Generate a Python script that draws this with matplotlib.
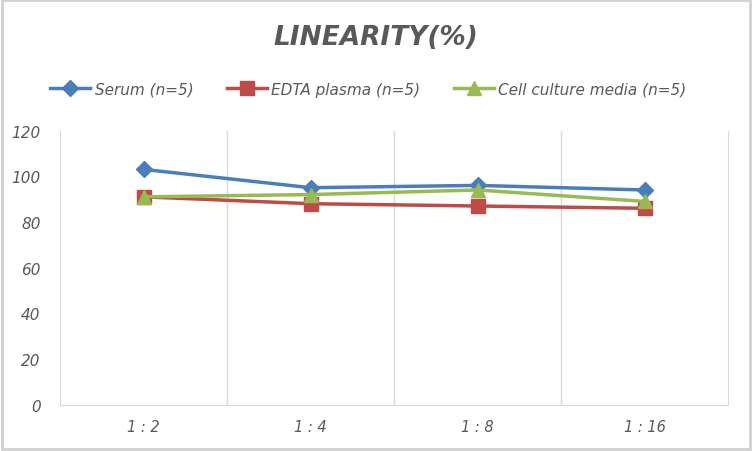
import matplotlib
matplotlib.use("Agg")
import matplotlib.pyplot as plt
from matplotlib.patches import Rectangle

categories = ["1:2", "1:4", "1:8", "1:16"]
serum = [103, 95, 96, 94]
edta = [91, 88, 87, 86]
cell = [91, 92, 94, 89]
series_names = ["Serum (n=5)", "EDTA plasma (n=5)", "Cell culture media (n=5)"]
yticks = [0, 20, 40, 60, 80, 100, 120]

plt.rcParams['font.family'] = ['DejaVu Sans']
txt = '#595959'
grid = '#d9d9d9'

fig = plt.figure(figsize=(7.52, 4.52), dpi=100)
ax = fig.add_axes([60/752, 1-406/452, (728-60)/752, (406-131.5)/452])

x = list(range(len(categories)))
ax.plot(x, serum, color='#4a7ebb', lw=2.5, marker='D', ms=8, label=series_names[0], zorder=3)
ax.plot(x, edta, color='#be4b48', lw=2.5, marker='s', ms=10, label=series_names[1], zorder=3)
ax.plot(x, cell, color='#98b954', lw=2.5, marker='^', ms=10, label=series_names[2], zorder=4)

ax.set_xlim(-0.5, len(categories) - 0.5)
ax.set_ylim(0, 120)
ax.set_yticks(yticks)
ax.set_yticklabels([str(v) for v in yticks], fontsize=11, style='italic', color=txt)
ax.set_xticks(x)
ax.set_xticklabels([" : ".join(c.split(":")) for c in categories], fontsize=10.5,
                   style='italic', color=txt)
for b in [i + 0.5 for i in range(len(categories) - 1)]:
    ax.axvline(b, color=grid, lw=1, zorder=1)
ax.spines['top'].set_visible(False)
ax.spines['left'].set_color(grid)
ax.spines['bottom'].set_color(grid)
ax.spines['right'].set_color(grid)
ax.tick_params(axis='both', length=0, pad=10)
ax.tick_params(axis='y', pad=14)

fig.text(0.5, 1 - 38/452, "LINEARITY(%)", ha='center', va='center', fontsize=19,
         fontweight='bold', style='italic', color=txt)

leg = fig.legend(loc='center', bbox_to_anchor=(0.49, 1 - 90/452), ncol=3, frameon=False,
                 prop={'style': 'italic', 'size': 11}, handlelength=2.6, columnspacing=2.2,
                 handletextpad=0.3)
for t in leg.get_texts():
    t.set_color(txt)

fig.patches.append(Rectangle((0.002, 0.004), 0.995, 0.994, transform=fig.transFigure,
                             fill=False, edgecolor='#d0d0d0', lw=2))

fig.savefig("out.png", dpi=100)
